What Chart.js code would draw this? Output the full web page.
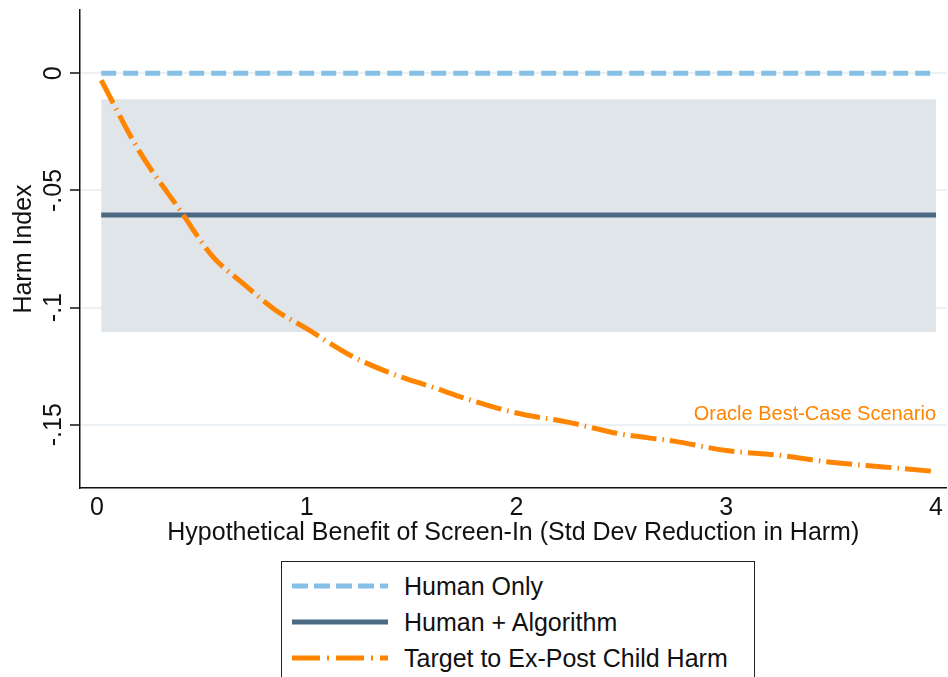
<!DOCTYPE html>
<html>
<head>
<meta charset="utf-8">
<script src="https://cdn.jsdelivr.net/npm/chart.js@4/dist/chart.umd.min.js"></script>
<style>
  html, body { margin:0; padding:0; background:#fff; overflow:hidden; }
  #wrap { position:relative; width:948px; height:677px; font-family:"Liberation Sans", Arial, sans-serif; }
  #chart-box { position:absolute; left:0; top:0; width:948px; height:548px; }
  #legend { position:absolute; left:281px; top:561px; width:474px; height:130px; border:1.5px solid #222; box-sizing:border-box; }
  .item { position:absolute; left:10px; height:30px; display:flex; align-items:center; font-size:25px; color:#111; }
  .item svg { margin-right:16px; }
</style>
</head>
<body>
<div id="wrap">
  <div id="chart-box"><canvas id="c"></canvas></div>
  <div id="legend">
    <div class="item" style="top:9px;"><svg width="96" height="10"><line x1="0" y1="5" x2="96" y2="5" stroke="#86c0e7" stroke-width="5" stroke-dasharray="16 6"/></svg>Human Only</div>
    <div class="item" style="top:45px;"><svg width="96" height="10"><line x1="0" y1="5" x2="96" y2="5" stroke="#4a6a84" stroke-width="5"/></svg>Human + Algorithm</div>
    <div class="item" style="top:81px;"><svg width="96" height="10"><line x1="0" y1="5" x2="96" y2="5" stroke="#ff8500" stroke-width="5" stroke-dasharray="28 7 2 7"/></svg>Target to Ex-Post Child Harm</div>
  </div>
</div>
<script>
// x values: hypothetical benefit (SD reduction in harm)
const lineX = [0.02, 4.0];
const humanOnly = [0, 0];
const humanAlgo = [-0.0605, -0.0605];
const bandUpper = [-0.0111, -0.0111];
const bandLower = [-0.1104, -0.1104];

const targetX = [0.02, 0.2, 0.4, 0.55, 0.7, 0.85, 1.0, 1.2, 1.4, 1.6, 1.8, 2.0, 2.25, 2.5, 2.75, 3.0, 3.25, 3.5, 3.75, 4.0];
const targetY = [-0.003, -0.033, -0.059, -0.078, -0.090, -0.101, -0.109, -0.120, -0.128, -0.134, -0.140, -0.145, -0.149, -0.154, -0.157, -0.161, -0.163, -0.166, -0.168, -0.170];

const xTicks = [0, 1, 2, 3, 4];
const yTicks = [0, -0.05, -0.1, -0.15];
const yTickLabels = ['0', '-.05', '-.1', '-.15'];

const FONT = '"Liberation Sans", Arial, sans-serif';
const pts = (xs, ys) => xs.map((x, i) => ({ x, y: ys[i] }));

// rotated y tick labels + annotation text
const extras = {
  id: 'extras',
  afterDraw(chart) {
    const { ctx, scales: { x, y } } = chart;
    ctx.save();
    ctx.fillStyle = '#111';
    ctx.font = `25px ${FONT}`;
    ctx.textAlign = 'center';
    ctx.textBaseline = 'alphabetic';
    yTicks.forEach((v, i) => {
      ctx.save();
      ctx.translate(61, y.getPixelForValue(v));
      ctx.rotate(-Math.PI / 2);
      ctx.fillText(yTickLabels[i], 0, 0);
      ctx.restore();
    });
    ctx.fillStyle = '#ff8500';
    ctx.font = `20px ${FONT}`;
    ctx.textAlign = 'right';
    ctx.textBaseline = 'middle';
    ctx.fillText('Oracle Best-Case Scenario', x.getPixelForValue(4.0), y.getPixelForValue(-0.1455));
    ctx.restore();
  }
};

new Chart(document.getElementById('c'), {
  type: 'line',
  data: {
    datasets: [
      { data: pts(lineX, bandUpper), borderWidth: 0, pointRadius: 0, fill: false, order: 5 },
      { data: pts(lineX, bandLower), borderWidth: 0, pointRadius: 0, fill: '-1', backgroundColor: '#e0e5ea', order: 4 },
      { data: pts(lineX, humanAlgo), borderColor: '#4a6a84', borderWidth: 5, pointRadius: 0, order: 3 },
      { data: pts(lineX, humanOnly), borderColor: '#86c0e7', borderWidth: 5, borderDash: [15, 7], pointRadius: 0, order: 2 },
      { data: pts(targetX, targetY), borderColor: '#ff8500', borderWidth: 5, borderDash: [26, 6, 1.5, 6], pointRadius: 0, cubicInterpolationMode: 'monotone', order: 1 },
    ]
  },
  options: {
    responsive: true,
    maintainAspectRatio: false,
    animation: false,
    layout: { padding: { top: 10, right: 0, left: 0, bottom: 0 } },
    plugins: { legend: { display: false }, tooltip: { enabled: false } },
    scales: {
      x: {
        type: 'linear', min: -0.081, max: 4.05,
        afterBuildTicks: (s) => { s.ticks = xTicks.map((v) => ({ value: v })); },
        afterFit: (s) => { s.height = 60; },
        grid: { display: false, drawTicks: false },
        border: { display: true, color: '#111', width: 1.5 },
        ticks: { color: '#111', font: { family: FONT, size: 25 }, padding: 5, maxRotation: 0, callback: (v) => String(v) },
        title: { display: true, text: 'Hypothetical Benefit of Screen-In (Std Dev Reduction in Harm)', color: '#111', font: { family: FONT, size: 25 }, padding: { top: 0, bottom: 0 } }
      },
      y: {
        type: 'linear', min: -0.177, max: 0.027,
        afterBuildTicks: (s) => { s.ticks = yTicks.map((v) => ({ value: v })); },
        afterFit: (s) => { s.width = 80; },
        grid: { color: '#eaf0f3', lineWidth: 2, tickColor: '#111', tickLength: 10, tickWidth: 1.5 },
        border: { display: true, color: '#111', width: 1.5 },
        ticks: { display: false },
        title: { display: true, text: 'Harm Index', color: '#111', font: { family: FONT, size: 25 }, padding: { top: 9, bottom: 0 } }
      }
    }
  },
  plugins: [extras]
});
</script>
</body>
</html>
